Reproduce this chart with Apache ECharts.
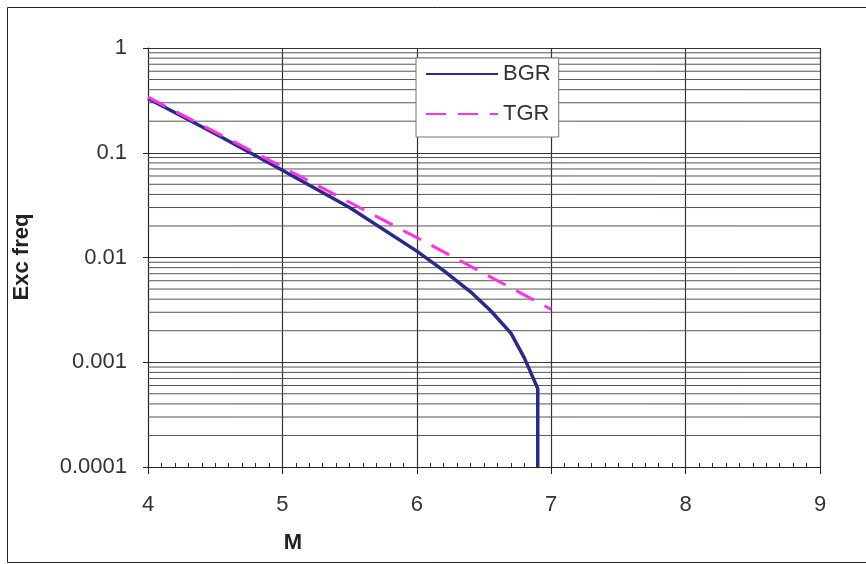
<!DOCTYPE html>
<html>
<head>
<meta charset="utf-8">
<script src="https://cdn.jsdelivr.net/npm/echarts@6/dist/echarts.min.js"></script>
<style>
  html, body { margin: 0; padding: 0; background: #ffffff; }
  #chart { width: 866px; height: 564px; }
</style>
</head>
<body>
<div id="chart"></div>
<script>
// Magnitude (M) on x, exceedance frequency on a log y axis
const bgrM    = [4.0, 4.5, 5.0, 5.5, 6.0, 6.2, 6.4, 6.55, 6.7, 6.8, 6.9, 6.9];
const bgrFreq = [0.33, 0.152, 0.068, 0.030, 0.0115, 0.0075, 0.0047, 0.0031, 0.0019, 0.0011, 0.00056, 0.0001];

const tgrM    = [4.0, 5.0, 6.0, 7.0];
const tgrFreq = [0.34, 0.073, 0.0155, 0.0032];

const xTickLabels = ['4', '5', '6', '7', '8', '9'];
const yTickLabels = ['1', '0.1', '0.01', '0.001', '0.0001'];

const X_MIN = 4, X_MAX = 9;
const FONT = '"Liberation Sans", Arial, sans-serif';

// intermediate log gridlines (2..9 within each decade)
const minorGrid = [];
for (let d = -4; d < 0; d++) {
  for (let k = 2; k <= 9; k++) {
    minorGrid.push([k * Math.pow(10, d)]);
  }
}

const chart = echarts.init(document.getElementById('chart'));
chart.setOption({
  backgroundColor: '#ffffff',
  animation: false,
  grid: { left: 148, right: 46, top: 48, bottom: 97, show: true, backgroundColor: '#ffffff', borderWidth: 0 },
  xAxis: [
    {
      type: 'value',
      min: X_MIN, max: X_MAX, interval: 1,
      axisLine: { show: true, onZero: false, lineStyle: { color: '#222', width: 1 } },
      axisTick: { show: true, length: 7, lineStyle: { color: '#222' } },
      splitLine: { show: true, lineStyle: { color: '#333', width: 1.2 } },
      axisLabel: {
        margin: 27, fontSize: 22, color: '#333', fontFamily: FONT,
        formatter: (v) => xTickLabels[Math.round(v - X_MIN)]
      }
    },
    {
      // small inward ticks every 0.1 along the bottom edge
      type: 'value',
      position: 'bottom',
      min: X_MIN, max: X_MAX, interval: 1,
      axisLine: { show: false, onZero: false },
      axisTick: { show: false, inside: true },
      minorTick: { show: true, splitNumber: 10, length: 4, lineStyle: { color: '#333' } },
      splitLine: { show: false },
      axisLabel: { show: false }
    }
  ],
  yAxis: {
    type: 'log',
    logBase: 10,
    min: 0.0001, max: 1,
    axisLine: { show: true, lineStyle: { color: '#222', width: 1 } },
    axisTick: { show: true, length: 5, lineStyle: { color: '#222' } },
    splitLine: { show: true, lineStyle: { color: '#333', width: 1.2 } },
    axisLabel: {
      margin: 21, fontSize: 22, color: '#333', fontFamily: FONT,
      formatter: (v) => yTickLabels[Math.round(-Math.log10(v))]
    }
  },
  legend: {
    orient: 'vertical',
    left: 416, top: 58,
    padding: [5, 8, 12, 9],
    itemWidth: 72, itemHeight: 14, itemGap: 18,
    backgroundColor: '#ffffff',
    borderColor: '#777', borderWidth: 1,
    itemStyle: { opacity: 0 },
    textStyle: { fontSize: 22, color: '#333', fontFamily: FONT },
    data: ['BGR', 'TGR']
  },
  series: [
    {
      name: 'minor grid',
      type: 'custom',
      silent: true,
      z: 1,
      data: minorGrid,
      encode: { y: 0 },
      renderItem: (params, api) => {
        const v = api.value(0);
        const p1 = api.coord([X_MIN, v]);
        const p2 = api.coord([X_MAX, v]);
        return {
          type: 'line',
          shape: { x1: p1[0], y1: p1[1], x2: p2[0], y2: p2[1] },
          style: { stroke: '#555', lineWidth: 1 }
        };
      }
    },
    {
      name: 'BGR',
      type: 'line',
      z: 3,
      symbol: 'none',
      color: '#2a2a8c',
      lineStyle: { color: '#2a2a8c', width: 3.5 },
      data: bgrM.map((m, i) => [m, bgrFreq[i]])
    },
    {
      name: 'TGR',
      type: 'line',
      z: 4,
      symbol: 'none',
      color: '#ff33e6',
      lineStyle: { color: '#ff33e6', width: 3, type: [20, 12] },
      data: tgrM.map((m, i) => [m, tgrFreq[i]])
    }
  ],
  graphic: [
    {
      type: 'rect',
      shape: { x: 7.5, y: 7.5, width: 880, height: 555 },
      style: { fill: 'none', stroke: '#222', lineWidth: 1 },
      silent: true, z: 0
    },
    {
      type: 'text',
      x: 22, y: 257,
      rotation: Math.PI / 2,
      style: { text: 'Exc freq', font: 'bold 22px ' + FONT, fill: '#222', align: 'center', verticalAlign: 'middle' },
      silent: true
    },
    {
      type: 'text',
      x: 293, y: 543,
      style: { text: 'M', font: 'bold 22px ' + FONT, fill: '#222', align: 'center', verticalAlign: 'middle' },
      silent: true
    }
  ]
});
</script>
</body>
</html>
